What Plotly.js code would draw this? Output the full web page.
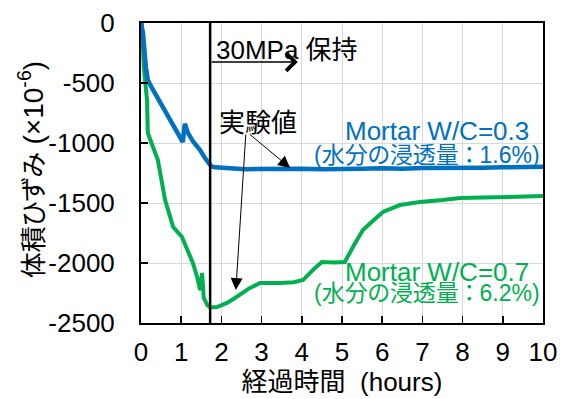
<!DOCTYPE html>
<html>
<head>
<meta charset="utf-8">
<script src="https://cdn.plot.ly/plotly-3.0.1.min.js"></script>
<style>
html,body{margin:0;padding:0;background:#fff;}
#chart{width:568px;height:399px;}
text{font-feature-settings:"palt";}
</style>
</head>
<body>
<div id="chart"></div>
<script>
// Mortar W/C=0.3 (blue)
const blueX = [0, 0.05, 0.12, 0.17, 0.3, 0.4, 0.55, 0.65, 0.8, 0.97, 1.04, 1.09, 1.12, 1.17, 1.3, 1.47, 1.6, 1.67, 1.75, 1.85, 2.0, 2.3, 2.6, 3.0, 3.5, 4.0, 4.5, 5.0, 5.5, 6.0, 6.5, 7.0, 7.5, 8.0, 8.5, 9.0, 9.5, 10];
const blueY = [0, -83, -367, -475, -558, -617, -690, -750, -850, -950, -992, -840, -880, -917, -990, -1058, -1130, -1167, -1195, -1203, -1208, -1212, -1218, -1215, -1220, -1215, -1218, -1212, -1215, -1210, -1214, -1208, -1210, -1205, -1207, -1203, -1200, -1197];
// Mortar W/C=0.7 (green)
const greenX = [0, 0.02, 0.07, 0.15, 0.17, 0.27, 0.42, 0.6, 0.8, 1.02, 1.15, 1.29, 1.4, 1.47, 1.52, 1.56, 1.65, 1.72, 1.89, 2.14, 2.3, 2.46, 2.7, 2.96, 3.2, 3.46, 3.8, 4.03, 4.3, 4.5, 4.8, 5.07, 5.3, 5.52, 5.8, 6.02, 6.44, 6.94, 7.5, 7.94, 8.5, 9.25, 10];
const greenY = [0, 0, -367, -642, -917, -1000, -1142, -1475, -1700, -1783, -1880, -2000, -2120, -2225, -2083, -2290, -2350, -2370, -2367, -2333, -2300, -2267, -2210, -2167, -2170, -2167, -2160, -2142, -2050, -1992, -1995, -1992, -1850, -1725, -1640, -1575, -1517, -1492, -1475, -1458, -1455, -1450, -1442];
const xTicks = [0,1,2,3,4,5,6,7,8,9,10];
const yTicks = [0,-500,-1000,-1500,-2000,-2500];
const holdStart = 1.72;   // start of 30MPa hold (hours)
const holdArrowEnd = 3.9;
const holdArrowY = -325;

const FONT = 'Liberation Sans, Arial, Noto Sans CJK JP, sans-serif';
const BLUE = '#0070C0', GREEN = '#00B050';

const traces = [
  {x: greenX, y: greenY, mode: 'lines', line: {color: GREEN, width: 4}, hoverinfo: 'skip'},
  {x: blueX, y: blueY, mode: 'lines', line: {color: BLUE, width: 4.5}, hoverinfo: 'skip'}
];

const layout = {
  width: 568, height: 399,
  margin: {l: 141, r: 25, t: 23, b: 76},
  paper_bgcolor: '#fff', plot_bgcolor: '#fff',
  showlegend: false,
  font: {family: FONT, size: 26, color: '#000'},
  xaxis: {
    range: [0, 10], tickvals: xTicks, ticktext: xTicks.map(String),
    showgrid: true, gridcolor: '#d9d9d9', gridwidth: 1,
    zeroline: false, showline: true, linecolor: '#000', linewidth: 2, mirror: true,
    ticks: 'inside', ticklen: 7, tickcolor: '#000', tickwidth: 1.5,
    tickfont: {size: 26}, ticklabelstandoff: 5,
    title: {text: '経過時間\u00a0\u00a0(hours)', font: {size: 26}, standoff: 6}
  },
  yaxis: {
    range: [-2500, 0], tickvals: yTicks, ticktext: yTicks.map(String),
    showgrid: true, gridcolor: '#d9d9d9', gridwidth: 1,
    zeroline: false, showline: true, linecolor: '#000', linewidth: 2, mirror: true,
    ticks: 'inside', ticklen: 7, tickcolor: '#000', tickwidth: 1.5,
    tickfont: {size: 26}, ticklabelstandoff: 19
  },
  shapes: [
    {type: 'line', xref: 'x', yref: 'paper', x0: holdStart, x1: holdStart, y0: 0, y1: 1, line: {color: '#000', width: 2.5}}
  ],
  annotations: [
    {x: -0.273, y: 0.51, xref: 'paper', yref: 'paper', xanchor: 'center', yanchor: 'middle', textangle: -90,
     text: '体積ひずみ<span style="font-size:28px"> (×10<sup>-6</sup>)</span>', showarrow: false, font: {size: 26, color: '#000'}},
    {x: holdArrowEnd, y: holdArrowY, ax: holdStart, ay: holdArrowY, axref: 'x', ayref: 'y', xref: 'x', yref: 'y',
     text: '', showarrow: true, arrowhead: 4, arrowsize: 2.3, arrowwidth: 1.5, arrowcolor: '#000'},
    {x: holdStart + 0.1, y: -225, xref: 'x', yref: 'y', xanchor: 'left', yanchor: 'middle',
     text: '30MPa 保持', showarrow: false, font: {size: 26, color: '#000'}},
    {x: 2.91, y: -833, xref: 'x', yref: 'y', xanchor: 'center', yanchor: 'middle',
     text: '実験値', showarrow: false, font: {size: 26, color: '#000'}},
    {x: 3.71, y: -1208, ax: -42, ay: -35, xref: 'x', yref: 'y', text: '', showarrow: true,
     arrowhead: 2, arrowsize: 2.4, arrowwidth: 1, arrowcolor: '#000', standoff: 0},
    {x: 2.36, y: -2225, ax: 10, ay: -157, xref: 'x', yref: 'y', text: '', showarrow: true,
     arrowhead: 2, arrowsize: 2.4, arrowwidth: 1, arrowcolor: '#000', standoff: 0},
    {x: 9.7, y: -900, xref: 'x', yref: 'y', xanchor: 'right', yanchor: 'middle',
     text: 'Mortar W/C=0.3', showarrow: false, font: {size: 26, color: BLUE}},
    {x: 9.98, y: -1100, xref: 'x', yref: 'y', xanchor: 'right', yanchor: 'middle',
     text: '(水分の浸透量\u2009：\u20091.6%)', showarrow: false, font: {size: 23, color: BLUE}},
    {x: 9.7, y: -2075, xref: 'x', yref: 'y', xanchor: 'right', yanchor: 'middle',
     text: 'Mortar W/C=0.7', showarrow: false, font: {size: 26, color: GREEN}},
    {x: 9.98, y: -2250, xref: 'x', yref: 'y', xanchor: 'right', yanchor: 'middle',
     text: '(水分の浸透量\u2009：\u20096.2%)', showarrow: false, font: {size: 23, color: GREEN}}
  ]
};

Plotly.newPlot('chart', traces, layout, {staticPlot: true, displayModeBar: false});
</script>
</body>
</html>
